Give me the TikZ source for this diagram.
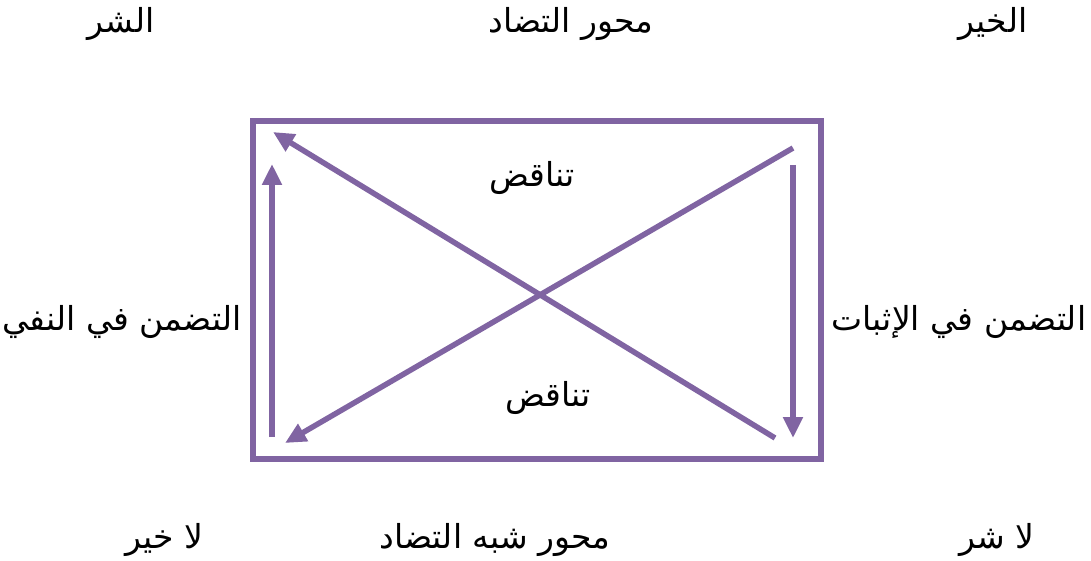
\documentclass[tikz,border=0pt]{standalone}
\usepackage{fontspec}
\usetikzlibrary{arrows.meta}
\newfontfamily\arabicfont[Script=Arabic]{DejaVu Sans}
\TeXXeTstate=1
\definecolor{vio}{HTML}{8064A2}
\begin{document}
\begin{tikzpicture}[x=1pt,y=-1pt,
  lbl/.style={font=\arabicfont\fontsize{33}{40}\selectfont, inner sep=0pt},
  ln/.style={draw=vio, line width=5.5pt},
  arr/.style={ln, -{Triangle[length=21pt,width=19pt]}}]
\useasboundingbox (0,0) rectangle (1091,561);
\node[draw=vio, line width=6.5pt, minimum width=568pt, minimum height=338pt, inner sep=0pt] (box) at (537,290) {};
% endpoints
\coordinate (a1) at (793,148);
\coordinate (a2) at (285,443);
\coordinate (b1) at (775,438);
\coordinate (b2) at (273,132);
\coordinate (r1) at (793,165);
\coordinate (r2) at (793,438);
\coordinate (l1) at (272,437);
\coordinate (l2) at (272,164);
\draw[arr] (a1) -- (a2);
\draw[arr] (b1) -- (b2);
\draw[arr] (r1) -- (r2);
\draw[arr] (l1) -- (l2);
% labels
\node[lbl] (evil) at (121,24) {\beginR الشر\endR};
\node[lbl] (contr) at (571,24) {\beginR محور التضاد\endR};
\node[lbl] (good) at (993,24) {\beginR الخير\endR};
\node[lbl] (c1) at (532,178) {\beginR تناقض\endR};
\node[lbl] (c2) at (548,398) {\beginR تناقض\endR};
\node[lbl] (neg) at (122,322) {\beginR التضمن في النفي\endR};
\node[lbl] (pos) at (959,322) {\beginR التضمن في الإثبات\endR};
\node[lbl] (ngood) at (164,540) {\beginR لا خير\endR};
\node[lbl] (subc) at (495,540) {\beginR محور شبه التضاد\endR};
\node[lbl] (nevil) at (997,540) {\beginR لا شر\endR};
\end{tikzpicture}
\end{document}
